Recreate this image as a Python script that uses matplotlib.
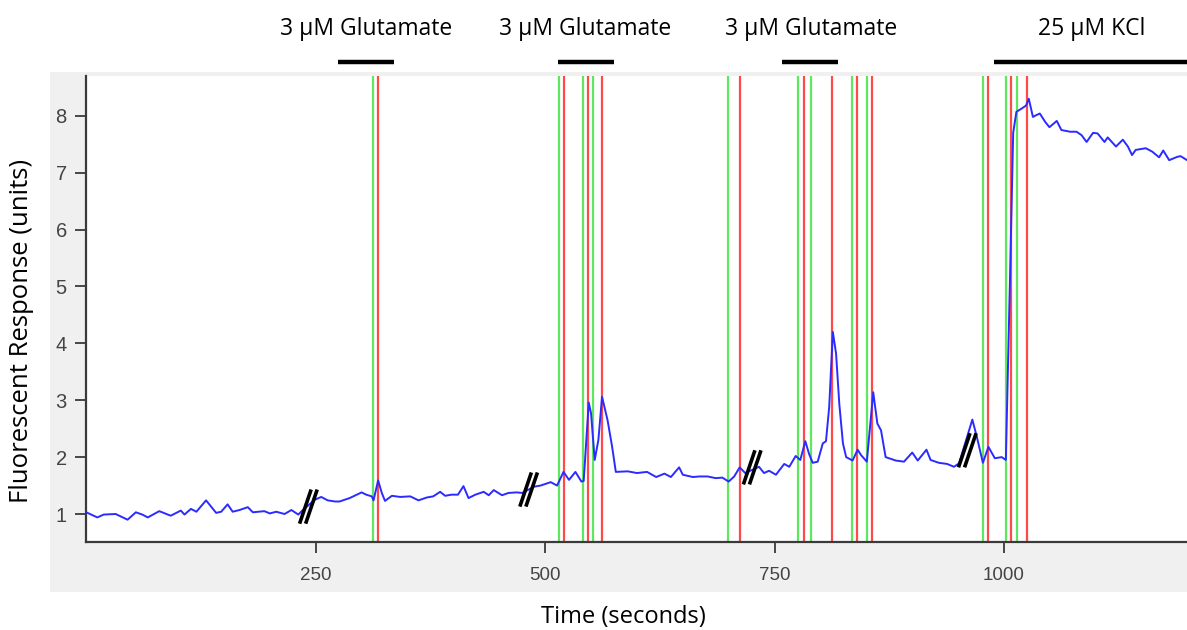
import matplotlib.pyplot as plt
from matplotlib.patches import Rectangle
import matplotlib.transforms as mtransforms

# trace (time in s, response in units)
t = [0, 12, 19, 32, 45, 54, 61, 67, 79.5, 92, 103, 107, 114, 120, 130.5, 136,
     141.5, 147, 154, 159.5, 167, 176, 181.5, 194, 200, 207, 216, 223.5, 231, 236,
     249, 256, 263, 271, 276, 287, 300, 305, 311, 313, 318, 322, 325.5, 333, 342,
     353, 362, 371, 378, 385.6, 391, 398, 405, 411, 416.5, 424, 433, 438.5, 444,
     453, 460, 469, 475,
     488, 495, 506, 513, 520, 526, 533, 539.5, 542, 547.5, 550, 554, 558, 562,
     568, 573, 577, 590, 600, 611, 621, 630, 637, 646, 650, 661, 668, 677, 686,
     693, 700, 706, 712, 718,
     733, 738.5, 744, 751.5, 760.5, 766, 773, 778, 783.5, 787.5, 791.5, 797,
     802.5, 806, 809.5, 813.5, 817, 820.5, 824.5, 828, 835, 840.5, 844.5, 850.5,
     857.5, 862, 866, 871, 882, 891, 900, 906, 915.5, 920, 929, 938, 945.5, 951,
     965.5, 970.5, 977, 983, 990, 997.5, 1002, 1006.5, 1010, 1013.5, 1019.5,
     1024, 1027, 1031.5, 1035, 1039, 1045, 1049.5, 1057.5, 1062.5, 1072, 1079,
     1084.5, 1090, 1097, 1102, 1109.5, 1113, 1122, 1129.5, 1135, 1139.5, 1143.5,
     1154.5, 1161.5, 1169, 1173.5, 1180, 1189, 1192.5, 1199.5]
resp = [1.03, 0.94, 0.99, 1.00, 0.90, 1.03, 0.99, 0.94, 1.05, 0.97, 1.06, 0.99,
        1.09, 1.04, 1.24, 1.13, 1.02, 1.04, 1.17, 1.04, 1.07, 1.12, 1.03, 1.05,
        1.01, 1.04, 1.00, 1.07, 0.99, 1.07,
        1.25, 1.30, 1.24, 1.22, 1.22, 1.28, 1.38, 1.34, 1.31, 1.24, 1.59, 1.37,
        1.23, 1.32, 1.30, 1.31, 1.24, 1.29, 1.31, 1.39, 1.32, 1.34, 1.34, 1.49,
        1.28, 1.34, 1.39, 1.33, 1.42, 1.33, 1.37, 1.38, 1.37,
        1.48, 1.50, 1.56, 1.50, 1.74, 1.60, 1.74, 1.57, 1.58, 2.96, 2.77, 1.95,
        2.30, 3.06, 2.65, 2.18, 1.74, 1.75, 1.72, 1.74, 1.65, 1.71, 1.65, 1.82,
        1.69, 1.65, 1.66, 1.66, 1.63, 1.64, 1.57, 1.66, 1.82, 1.72,
        1.83, 1.72, 1.76, 1.69, 1.88, 1.83, 2.02, 1.95, 2.28, 2.06, 1.90, 1.92,
        2.24, 2.28, 2.88, 4.20, 3.82, 2.94, 2.24, 2.00, 1.94, 2.13, 2.03, 1.92,
        3.14, 2.59, 2.47, 2.00, 1.94, 1.92, 2.08, 1.94, 2.13, 1.95, 1.90, 1.88,
        1.83, 1.89,
        2.66, 2.35, 1.90, 2.18, 1.98, 2.00, 1.95, 5.12, 7.70, 8.07, 8.13, 8.18,
        8.30, 7.98, 8.01, 8.04, 7.89, 7.80, 7.91, 7.75, 7.72, 7.72, 7.66, 7.54,
        7.70, 7.69, 7.54, 7.62, 7.46, 7.58, 7.46, 7.31, 7.40, 7.43, 7.37, 7.27,
        7.39, 7.22, 7.28, 7.29, 7.22]

green_lines = [312.1, 515.1, 541.6, 552.5, 698.9, 775.8, 789.7, 834.0, 850.4,
               976.8, 1002.2, 1013.8]
red_lines = [318.2, 520.6, 547.0, 561.6, 712.3, 782.4, 812.9, 839.5, 856.5,
             982.9, 1007.6, 1024.7]

# axis breaks (time, response)
break_t = [242, 482, 725.6, 960]
break_y = [1.13, 1.43, 1.82, 2.12]

# treatment bars at the top
labels = ['3 µM Glutamate', '3 µM Glutamate', '3 µM Glutamate', '25 µM KCl']
label_x = [304.6, 544, 790, 1096]
bar_start = [274, 513.5, 758, 988.7]
bar_end = [335.3, 574.7, 819.3, 1205]

fig = plt.figure(figsize=(11.87, 6.30), dpi=100)
fig.add_artist(Rectangle((0.0421, 0.0603), 0.9579, 0.8254, transform=fig.transFigure,
                         facecolor='#f0f0f0', edgecolor='none', zorder=-1))
ax = fig.add_axes([0.0727, 0.1397, 0.9273, 0.7397])
ax.set_facecolor('white')

for x in green_lines:
    ax.axvline(x, color='#5ee85e', lw=1.6, zorder=1)
for x in red_lines:
    ax.axvline(x, color='#ff4a4a', lw=1.6, zorder=1)

ax.plot(t, resp, color='#2b2bff', lw=1.4, zorder=3)

# break marks "//"
for bt, by in zip(break_t, break_y):
    for dx in (-3.3, 3.3):
        ax.plot([bt + dx - 6.3, bt + dx + 6.3], [by - 0.30, by + 0.30],
                color='black', lw=2.6, solid_capstyle='butt', zorder=4)

ax.set_xlim(0, 1199.4)
ax.set_ylim(0.508, 8.70)
ax.set_xticks([250, 500, 750, 1000])
ax.set_yticks([1, 2, 3, 4, 5, 6, 7, 8])

for s in ['top', 'right']:
    ax.spines[s].set_visible(False)
for s in ['left', 'bottom']:
    ax.spines[s].set_color('#3a3a3a')
    ax.spines[s].set_linewidth(1.6)

ax.tick_params(axis='both', direction='out', length=8, width=1.3, color='#3a3a3a',
               labelcolor='#444444')
ax.tick_params(axis='y', pad=6)
ax.tick_params(axis='x', pad=10)
for lab in ax.get_yticklabels():
    lab.set_family(['Liberation Sans', 'DejaVu Sans'])
    lab.set_fontsize(14.5)
for lab in ax.get_xticklabels():
    lab.set_family(['Liberation Sans Narrow', 'Liberation Sans', 'DejaVu Sans'])
    lab.set_fontsize(13.5)

# treatment labels and bars above the plot
trans = mtransforms.blended_transform_factory(ax.transData, ax.transAxes)
for lx, lab in zip(label_x, labels):
    ax.text(lx, 1.101, lab, transform=trans, ha='center', va='center',
            fontsize=16.5, family=['Open Sans', 'DejaVu Sans'], color='black',
            clip_on=False)
for x0, x1 in zip(bar_start, bar_end):
    ax.plot([x0, x1], [1.031, 1.031], transform=trans, color='black', lw=3.2,
            solid_capstyle='butt', clip_on=False)

fig.text(0.0185, 0.474, 'Fluorescent Response (units)', rotation=90,
         ha='center', va='center', fontsize=18.5, family=['Open Sans', 'DejaVu Sans'])
fig.text(0.525, 0.0206, 'Time (seconds)', ha='center', va='center', fontsize=17,
         family=['Liberation Sans Narrow', 'Open Sans', 'DejaVu Sans'])

fig.savefig('out.png', dpi=100)
